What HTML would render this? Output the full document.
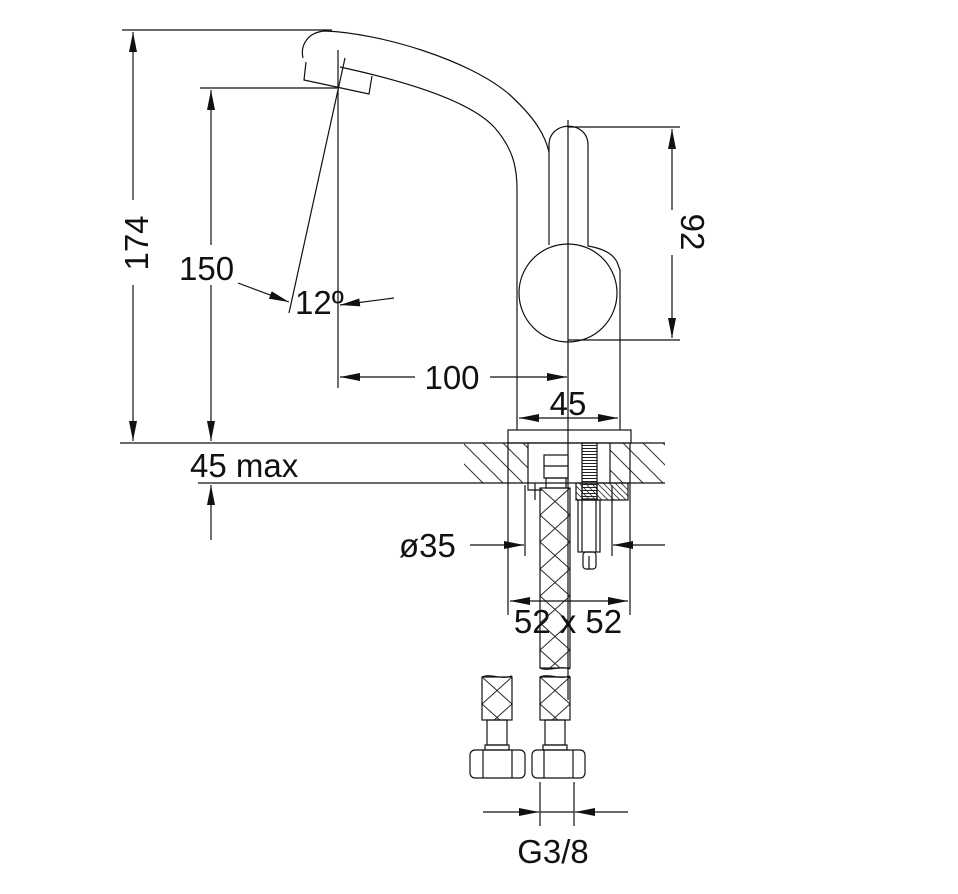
<!DOCTYPE html>
<html><head><meta charset="utf-8"><style>
html,body{margin:0;padding:0;background:#fff;}
svg{display:block;}
text{font-family:"Liberation Sans",Arial,sans-serif;fill:#111;}
</style></head><body>
<svg width="958" height="894" viewBox="0 0 958 894" xmlns="http://www.w3.org/2000/svg">
<defs>
<marker id="a" viewBox="0 0 20 8" refX="20" refY="4" markerWidth="20" markerHeight="8" markerUnits="userSpaceOnUse" orient="auto"><path d="M0,0 L20,4 L0,8 z" fill="#111"/></marker>
<pattern id="h" width="20" height="20" patternUnits="userSpaceOnUse"><path d="M-4,-4 L24,24 M-4,16 L4,24 M16,-4 L24,4" stroke="#333" stroke-width="1"/></pattern>
<pattern id="hs" width="6" height="6" patternUnits="userSpaceOnUse"><path d="M-2,-2 L8,8 M-2,4 L2,8 M4,-2 L8,2" stroke="#333" stroke-width="0.8"/></pattern>
<pattern id="x" width="30" height="27" patternUnits="userSpaceOnUse" x="540" y="488"><path d="M0,0 L30,27 M30,0 L0,27" stroke="#222" stroke-width="1"/></pattern>
<pattern id="x2" width="30" height="27" patternUnits="userSpaceOnUse" x="482" y="677"><path d="M0,0 L30,27 M30,0 L0,27" stroke="#222" stroke-width="1"/></pattern>
<pattern id="x3" width="30" height="27" patternUnits="userSpaceOnUse" x="540" y="677"><path d="M0,0 L30,27 M30,0 L0,27" stroke="#222" stroke-width="1"/></pattern>
<pattern id="thr" width="15" height="3" patternUnits="userSpaceOnUse"><path d="M0,1.5 L15,1.5" stroke="#222" stroke-width="1"/></pattern>
</defs>
<g stroke="#111" stroke-width="1.2" fill="none">
<line x1="122" y1="30" x2="332" y2="30"/>
<line x1="200" y1="88" x2="337" y2="88"/>
<line x1="120" y1="443" x2="460" y2="443"/>
<line x1="198" y1="483" x2="460" y2="483"/>
<line x1="133" y1="200" x2="133" y2="32" marker-end="url(#a)"/>
<line x1="133" y1="285" x2="133" y2="441" marker-end="url(#a)"/>
<line x1="211" y1="245" x2="211" y2="90" marker-end="url(#a)"/>
<line x1="211" y1="285" x2="211" y2="441" marker-end="url(#a)"/>
<line x1="211" y1="540" x2="211" y2="485" marker-end="url(#a)"/>
<line x1="338" y1="50" x2="338" y2="388"/>
<line x1="345" y1="58" x2="289" y2="313"/>
<line x1="238" y1="283" x2="289" y2="302" marker-end="url(#a)"/>
<line x1="394" y1="298" x2="340" y2="305" marker-end="url(#a)"/>
<line x1="415" y1="377" x2="340" y2="377" marker-end="url(#a)"/>
<line x1="490" y1="377" x2="567" y2="377" marker-end="url(#a)"/>
<path d="M303,58 C300,45 308,32 325,31 C380,33 470,60 510,95 C535,118 545,135 549,152"/>
<path d="M340,67 C400,80 470,100 495,128 C512,148 517,165 517,190 L517,430"/>
<path d="M306,62 L304,80 L369,94 L372,76"/>
<path d="M549,245 L549,145 C549,120 588,120 588,145 L588,246 C600,248 612,252 617,262 L620,270 L620,430"/>
<circle cx="568" cy="293" r="49"/>
<line x1="568" y1="120" x2="568" y2="700"/>
<line x1="568" y1="127" x2="680" y2="127"/>
<line x1="568" y1="340" x2="680" y2="340"/>
<line x1="672" y1="210" x2="672" y2="129" marker-end="url(#a)"/>
<line x1="672" y1="255" x2="672" y2="338" marker-end="url(#a)"/>
<line x1="568" y1="418" x2="519" y2="418" marker-end="url(#a)"/>
<line x1="568" y1="418" x2="618" y2="418" marker-end="url(#a)"/>
<rect x="508" y="430" width="123" height="13"/>
<rect x="464" y="443" width="64" height="40" fill="url(#h)" stroke="none"/>
<rect x="610" y="443" width="55" height="40" fill="url(#h)" stroke="none"/>
<line x1="460" y1="443" x2="665" y2="443"/>
<line x1="460" y1="483" x2="665" y2="483"/>
<line x1="528" y1="443" x2="528" y2="483"/>
<line x1="610" y1="443" x2="610" y2="483"/>
<rect x="544" y="455" width="24" height="23" fill="#fff"/>
<line x1="544" y1="466" x2="568" y2="466"/>
<rect x="546" y="478" width="20" height="10"/>
<path d="M528,483 L528,490 L542,490 M535,483 L535,500" />
<rect x="540" y="488" width="30" height="180" fill="url(#x)"/>
<rect x="582" y="443" width="15" height="56" fill="url(#thr)"/>
<rect x="576" y="483" width="52" height="17" fill="url(#hs)"/>
<rect x="582" y="483" width="15" height="17" fill="url(#thr)"/>
<rect x="578" y="500" width="22" height="52"/>
<line x1="582" y1="500" x2="582" y2="552"/><line x1="596" y1="500" x2="596" y2="552"/>
<rect x="583" y="552" width="13" height="17" rx="3"/>
<line x1="589" y1="556" x2="589" y2="569"/>
<line x1="525" y1="485" x2="525" y2="556"/>
<line x1="612" y1="485" x2="612" y2="556"/>
<line x1="470" y1="545" x2="524" y2="545" marker-end="url(#a)"/>
<line x1="665" y1="545" x2="613" y2="545" marker-end="url(#a)"/>
<line x1="508" y1="443" x2="508" y2="615"/>
<line x1="630" y1="443" x2="630" y2="615"/>
<line x1="568" y1="601" x2="510" y2="601" marker-end="url(#a)"/>
<line x1="568" y1="601" x2="628" y2="601" marker-end="url(#a)"/>
<rect x="482" y="677" width="30" height="43" fill="url(#x2)"/>
<path d="M482,677 C490,673 500,680 512,676"/>
<rect x="487" y="720" width="20" height="25"/>
<rect x="485" y="745" width="24" height="5"/>
<rect x="470" y="750" width="55" height="28" rx="5"/>
<line x1="483" y1="750" x2="483" y2="778"/><line x1="512" y1="750" x2="512" y2="778"/>
<rect x="540" y="677" width="30" height="43" fill="url(#x3)"/>
<path d="M540,677 C548,673 560,680 570,676"/>
<path d="M540,668 C548,672 560,665 570,669"/>
<rect x="545" y="720" width="20" height="25"/>
<rect x="543" y="745" width="24" height="5"/>
<rect x="532" y="750" width="53" height="28" rx="5"/>
<line x1="544" y1="750" x2="544" y2="778"/><line x1="573" y1="750" x2="573" y2="778"/>
<line x1="540" y1="782" x2="540" y2="826"/>
<line x1="574" y1="782" x2="574" y2="826"/>
<line x1="483" y1="812" x2="539" y2="812" marker-end="url(#a)"/>
<line x1="628" y1="812" x2="575" y2="812" marker-end="url(#a)"/>
<line x1="540" y1="812" x2="574" y2="812"/>
</g>
<g font-size="33">
<text x="148" y="243" transform="rotate(-90 148 243)" text-anchor="middle">174</text>
<text x="179" y="280">150</text>
<text x="295" y="314">12º</text>
<text x="452" y="389" text-anchor="middle">100</text>
<text x="568" y="415" text-anchor="middle">45</text>
<text x="681" y="232" transform="rotate(90 681 232)" text-anchor="middle">92</text>
<text x="190" y="477">45 max</text>
<text x="399" y="557">ø35</text>
<text x="568" y="633" text-anchor="middle">52 x 52</text>
<text x="553" y="863" text-anchor="middle">G3/8</text>
</g>
</svg>
</body></html>
